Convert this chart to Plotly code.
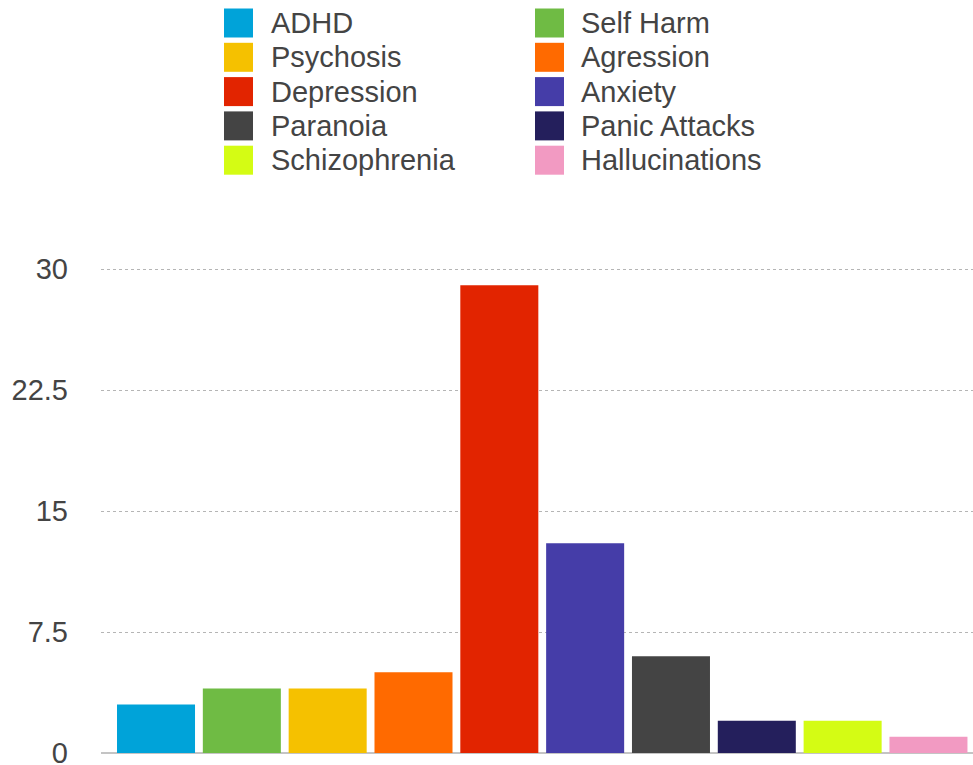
import plotly.graph_objects as go

categories = ["ADHD", "Self Harm", "Psychosis", "Agression", "Depression",
              "Anxiety", "Paranoia", "Panic Attacks", "Schizophrenia", "Hallucinations"]
values = [3, 4, 4, 5, 29, 13, 6, 2, 2, 1]
colors = ["#00A3D9", "#6FBB44", "#F5C100", "#FF6A00", "#E22400",
          "#453DA8", "#444444", "#241F5C", "#D4FC14", "#F29AC2"]
y_ticks = [0, 7.5, 15, 22.5, 30]
y_ticktext = ["0", "7.5", "15", "22.5", "30"]

W, H = 973, 765
ML, MR, MT, MB = 101, 0, 265, 12
PW, PH = W - ML - MR, H - MT - MB
px_per_unit = 484 / 30.0
y_top = PH / px_per_unit

fig = go.Figure()
for cat, val, col in zip(categories, values, colors):
    fig.add_trace(go.Bar(x=[cat], y=[val], name=cat, marker=dict(color=col, line=dict(width=0)),
                         width=0.909, showlegend=False))

# custom legend (2 columns, row-wise order)
def px2paper(px, py):
    return (px - ML) / PW, (H - MB - py) / PH

shapes, annots = [], []
col_sw_x = [224, 535]
col_tx_x = [269, 579]
sw = 29
for i, (cat, col) in enumerate(zip(categories, colors)):
    r, c = divmod(i, 2)
    cy = 23 + r * 34.3
    x0, y0 = px2paper(col_sw_x[c], cy + sw / 2)
    x1, y1 = px2paper(col_sw_x[c] + sw, cy - sw / 2)
    shapes.append(dict(type="rect", xref="paper", yref="paper", x0=x0, x1=x1, y0=y0, y1=y1,
                       fillcolor=col, line=dict(width=0), layer="above"))
    tx, ty = px2paper(col_tx_x[c], cy)
    annots.append(dict(text=cat, xref="paper", yref="paper", x=tx, y=ty, xanchor="left",
                       yanchor="middle", showarrow=False,
                       font=dict(family="Liberation Sans, Arial, sans-serif", size=29, color="#444444")))

fig.update_layout(
    width=W, height=H,
    margin=dict(l=ML, r=MR, t=MT, b=MB, autoexpand=False),
    paper_bgcolor="white", plot_bgcolor="white",
    barmode="overlay",
    shapes=shapes, annotations=annots,
    font=dict(family="Liberation Sans, Arial, sans-serif", color="#444444"),
    xaxis=dict(range=[-0.641, 9.519], showticklabels=False, showgrid=False, zeroline=False,
               showline=False, ticks="", automargin=False),
    yaxis=dict(range=[0, y_top], tickvals=y_ticks, ticktext=y_ticktext,
               tickfont=dict(size=29, color="#444444"),
               showgrid=True, gridcolor="#b5b5b5", gridwidth=1, griddash="dot",
               zeroline=True, zerolinecolor="#c4c4c4", zerolinewidth=2,
               ticks="", ticklabelstandoff=32, showline=False,
               ticklabeloverflow="allow", automargin=False),
)
fig.write_html("out.html")
